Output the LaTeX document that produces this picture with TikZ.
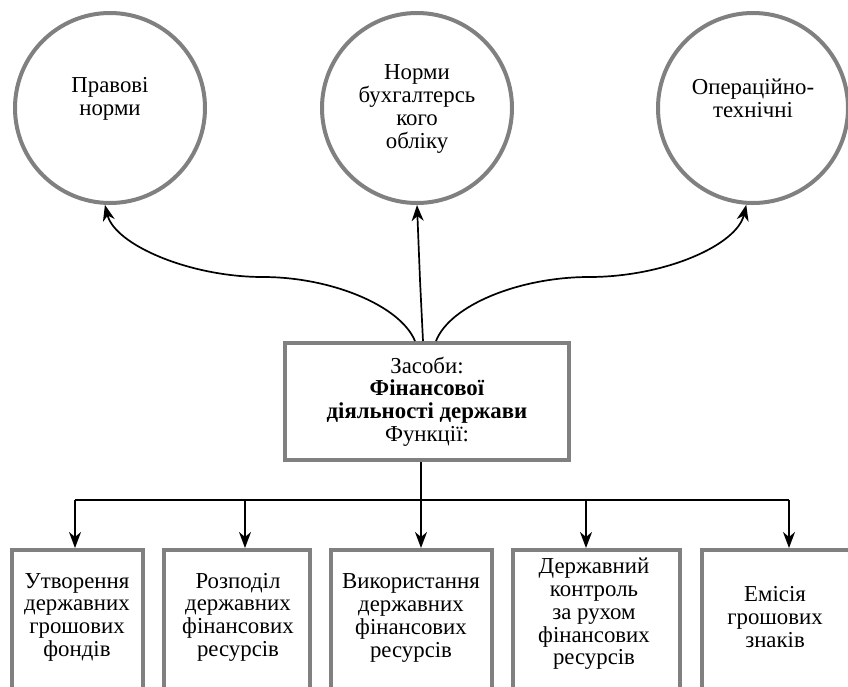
\documentclass[tikz,border=0pt]{standalone}
\usepackage{fontspec}
\setmainfont{Liberation Serif}
\usetikzlibrary{arrows.meta,calc}
\definecolor{framegray}{RGB}{128,128,128}
\begin{document}
\begin{tikzpicture}[x=1pt,y=-1pt,
  txt/.style={font=\fontsize{22.8}{22.7}\selectfont, align=center, inner sep=0pt},
  ring/.style={circle, draw=framegray, line width=4pt, minimum size=190pt, inner sep=0pt},
  mainbox/.style={rectangle, draw=framegray, line width=4pt, minimum width=284pt, minimum height=117pt, inner sep=0pt},
  fbox/.style={rectangle, draw=framegray, line width=4pt, minimum height=180pt, inner sep=0pt, anchor=north},
  conn/.style={line width=1.7pt, -{Stealth[length=16pt,width=12pt,inset=5pt]}},
  plain/.style={line width=1.7pt}]
\useasboundingbox (0,0) rectangle (848,686);
\clip (0,0) rectangle (848,686);
% circles
\node[ring] (lc) at (110,108) {};
\node[ring] (mc) at (417,108) {};
\node[ring] (rc) at (753,108) {};
\node[txt] (lt) at (110,99) {Правові\\норми};
\node[txt] (mt) at (417,109) {Норми\\бухгалтерсь\\кого\\обліку};
\node[txt] (rt) at (753,98) {Операційно-\\технічні};
% central box
\node[mainbox, txt] (cb) at (427,401.5) {Засоби:\\\textbf{Фінансової}\\\textbf{діяльності держави}\\Функції:};
% bottom boxes
\node[fbox, minimum width=131pt] (b1) at (77.5,548) {};
\node[fbox, minimum width=146pt] (b2) at (237,548) {};
\node[fbox, minimum width=161pt] (b3) at (411.5,548) {};
\node[fbox, minimum width=167pt] (b4) at (596.5,548) {};
\node[fbox, minimum width=150pt] (b5) at (777,548) {};
\node[txt] (t1) at (77,617) {Утворення\\державних\\грошових\\фондів};
\node[txt] (t2) at (238,617) {Розподіл\\державних\\фінансових\\ресурсів};
\node[txt] (t3) at (411,618) {Використання\\державних\\фінансових\\ресурсів};
\node[txt] (t4) at (594,614) {Державний\\контроль\\за рухом\\фінансових\\ресурсів};
\node[txt] (t5) at (775,617) {Емісія\\грошових\\знаків};
% upper connectors
\draw[conn] ([xshift=-12pt]cb.north) .. controls (400,305) and (330,277) .. (263,277)
  .. controls (190,277) and (115,245) .. (lc.-93);
\draw[conn] ([xshift=-4pt]cb.north) -- (420,280) -- (mc.south);
\draw[conn] ([xshift=9pt]cb.north) .. controls (450,305) and (520,277) .. (589,277)
  .. controls (665,277) and (737,245) .. (rc.-94);
% lower connectors
\coordinate (hc) at (421,500);
\coordinate (h1) at (75,500);
\coordinate (h2) at (245,500);
\coordinate (h4) at (586,500);
\coordinate (h5) at (789,500);
\draw[plain] ([xshift=-6pt]cb.south) -- (hc);
\draw[plain] (h1) -- (h5);
\draw[conn] (h1) -- (h1 |- b1.north);
\draw[conn] (h2) -- (h2 |- b2.north);
\draw[conn] (hc) -- (hc |- b3.north);
\draw[conn] (h4) -- (h4 |- b4.north);
\draw[conn] (h5) -- (h5 |- b5.north);
\end{tikzpicture}
\end{document}
